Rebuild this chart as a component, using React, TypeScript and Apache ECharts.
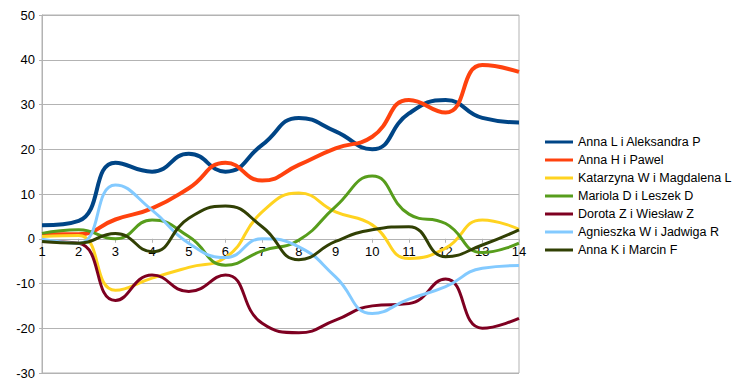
import React, { useEffect, useRef } from "react";
import * as echarts from "echarts";

const categories = ["1", "2", "3", "4", "5", "6", "7", "8", "9", "10", "11", "12", "13", "14"];

const seriesNames = [
  "Anna L i Aleksandra P",
  "Anna H i Pawel",
  "Katarzyna W i Magdalena L",
  "Mariola D i Leszek D",
  "Dorota Z i Wiesław Z",
  "Agnieszka W i Jadwiga R",
  "Anna K i Marcin F",
];

const annaL = [3, 4, 17, 15, 19, 15, 21, 27, 24, 20, 28, 31, 27, 26];
const annaH = [1, 1, 4.3, 6.8, 11.3, 17, 13, 16.5, 20.2, 22.8, 31, 28.2, 38.8, 37.3];
const katarzyna = [0.5, 0.7, -11.5, -8.8, -6.4, -4.2, 6, 10.2, 6, 3.1, -4.4, -2.1, 4.2, 2.1];
const mariola = [1.2, 2, 0, 4.2, 0.5, -5.9, -2.7, -0.3, 7.2, 14, 5.5, 3.4, -3.1, -1];
const dorota = [-0.6, -1, -13.8, -8.1, -11.8, -8.1, -18.9, -21, -18.2, -15, -14.5, -9, -20, -17.8];
const agnieszka = [-0.1, -1, 12, 6.4, -1, -4.2, 0, -1.8, -8.5, -16.7, -13.5, -10.7, -6.6, -6];
const annaK = [-0.6, -1, 1.2, -2.9, 4.6, 7.3, 2.7, -4.7, -0.6, 2, 2.7, -4, -1.4, 2];

const seriesData = [annaL, annaH, katarzyna, mariola, dorota, agnieszka, annaK];
const colors = ["#004586", "#ff420e", "#ffd320", "#579d1c", "#7e0021", "#83caff", "#314004"];
const widths = [4, 4, 3, 3, 3, 3, 3];

const Y_MIN = -30;
const Y_MAX = 50;
const GRID_TOP = 15;
const GRID_BOTTOM = 15;
const CHART_H = 388;

export default function App() {
  const ref = useRef<HTMLDivElement>(null);
  useEffect(() => {
    if (!ref.current) return;
    const chart = echarts.init(ref.current, null, { renderer: "svg" });
    const gridH = CHART_H - GRID_TOP - GRID_BOTTOM;
    const zeroOffset = -(gridH * (0 - Y_MIN)) / (Y_MAX - Y_MIN);
    chart.setOption({
      animation: false,
      textStyle: { fontFamily: "Liberation Sans" },
      grid: {
        left: 42,
        right: 224,
        top: GRID_TOP,
        bottom: GRID_BOTTOM,
        show: true,
        borderColor: "#b3b3b3",
        borderWidth: 1,
      },
      legend: {
        orient: "vertical",
        left: 545,
        top: 135,
        padding: 0,
        itemWidth: 28,
        itemHeight: 3,
        itemGap: 4,
        icon: "rect",
        textStyle: { fontSize: 12.5, color: "#000", fontFamily: "Liberation Sans", lineHeight: 14 },
        data: seriesNames,
      },
      xAxis: {
        type: "category",
        data: categories,
        boundaryGap: false,
        position: "bottom",
        offset: zeroOffset,
        axisLine: { onZero: false, lineStyle: { color: "#b3b3b3", width: 1 } },
        axisTick: { show: true, length: 4, lineStyle: { color: "#b3b3b3" } },
        axisLabel: { color: "#000", fontSize: 13, margin: 6, fontFamily: "Liberation Sans" },
        splitLine: { show: false },
      },
      yAxis: {
        type: "value",
        min: Y_MIN,
        max: Y_MAX,
        interval: 10,
        axisLine: { show: true, onZero: false, lineStyle: { color: "#b3b3b3" } },
        axisTick: { show: true, length: 3, lineStyle: { color: "#b3b3b3" } },
        axisLabel: { color: "#000", fontSize: 13, margin: 7, fontFamily: "Liberation Sans" },
        splitLine: { show: true, lineStyle: { color: "#b3b3b3", width: 1 } },
      },
      series: seriesNames.map((name, i) => ({
        name,
        type: "line",
        data: seriesData[i],
        smooth: 0.5,
        symbol: "none",
        lineStyle: { color: colors[i], width: widths[i] },
        itemStyle: { color: colors[i] },
      })),
    });
    return () => chart.dispose();
  }, []);
  return <div ref={ref} style={{ width: 743, height: 388, position: "absolute", left: 0, top: 0 }} />;
}
